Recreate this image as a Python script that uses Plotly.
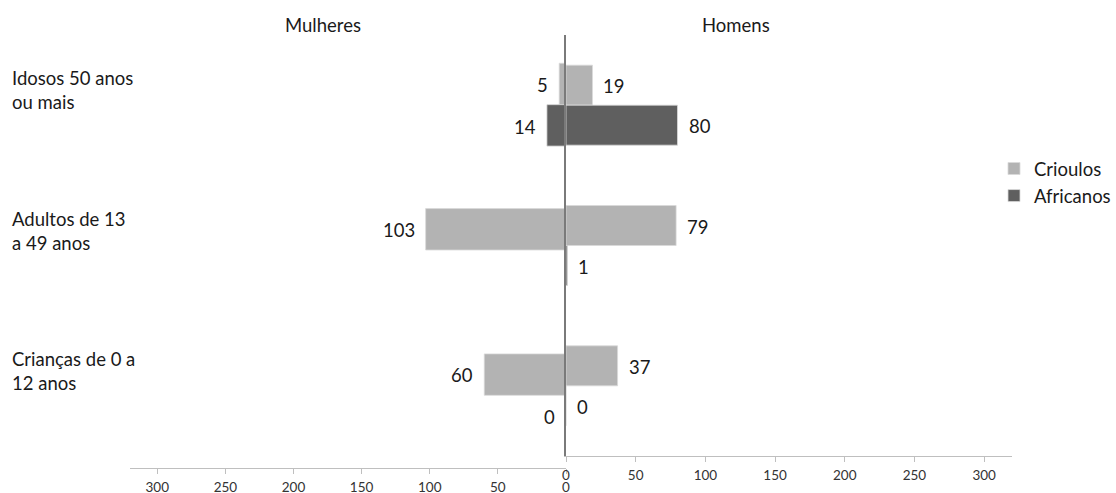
import plotly.graph_objects as go

# Age groups, top to bottom
faixas = ["Idosos 50 anos<br>ou mais", "Adultos de 13<br>a 49 anos", "Crianças de 0 a<br>12 anos"]
series = ["Crioulos", "Africanos"]

# Women (left panel) and men (right panel) by origin
mulheres_crioulos = [5, 103, 60]
mulheres_africanos = [14, None, 0]
homens_crioulos = [19, 79, 37]
homens_africanos = [80, 1, 0]

eixo_ticks = [0, 50, 100, 150, 200, 250, 300]

cores = {"Crioulos": "#b3b3b3", "Africanos": "#5f5f5f"}
FONTE = "Lato, 'Open Sans', sans-serif"
TXT = "#1a1a1a"
TAM = 18.5

W, H = 1116, 493


def fx(px):
    return px / W


def fy(py):
    return 1 - py / H


fig = go.Figure()

paineis = [
    ("x", "y", {"Crioulos": mulheres_crioulos, "Africanos": mulheres_africanos}),
    ("x2", "y2", {"Crioulos": homens_crioulos, "Africanos": homens_africanos}),
]

for xa, ya, dados in paineis:
    for nome in series:
        fig.add_trace(go.Bar(
            y=faixas, x=dados[nome], orientation="h",
            name=nome, legendgroup=nome,
            marker=dict(color=cores[nome], line=dict(width=0.8, color="#d9d9d9")),
            xaxis=xa, yaxis=ya,
            showlegend=(xa == "x2"),
            hoverinfo="skip",
        ))

# Value labels beside each bar
anots = []
for xa, ya, dados, lado, meia in [
    ("x", "y", {"Crioulos": mulheres_crioulos, "Africanos": mulheres_africanos}, -1, 21),
    ("x2", "y2", {"Crioulos": homens_crioulos, "Africanos": homens_africanos}, 1, 20),
]:
    for nome, desloc in [("Crioulos", meia), ("Africanos", -meia)]:
        for faixa, v in zip(faixas, dados[nome]):
            if v is None:
                continue
            anots.append(dict(
                x=v, y=faixa, xref=xa, yref=ya, text=str(v), showarrow=False,
                xanchor="right" if lado < 0 else "left",
                xshift=9 * lado, yshift=desloc - 1,
                font=dict(family=FONTE, size=TAM, color=TXT),
            ))

# Age-group labels at the far left
for faixa in faixas:
    anots.append(dict(
        x=fx(10), xref="paper", y=faixa, yref="y2", yshift=15,
        text=faixa, showarrow=False, xanchor="left", align="left",
        font=dict(family=FONTE, size=TAM, color=TXT),
    ))

# Panel titles
anots.append(dict(x=fx(323), y=fy(25), xref="paper", yref="paper", text="Mulheres",
                  xanchor="center", yanchor="middle",
                  showarrow=False, font=dict(family=FONTE, size=TAM, color=TXT)))
anots.append(dict(x=fx(736), y=fy(25), xref="paper", yref="paper", text="Homens",
                  xanchor="center", yanchor="middle",
                  showarrow=False, font=dict(family=FONTE, size=TAM, color=TXT)))

eixo_x = dict(
    tickvals=eixo_ticks, showgrid=False, zeroline=False,
    showline=True, linecolor="#bfbfbf", linewidth=1,
    ticks="outside", ticklen=5, tickcolor="#bfbfbf",
    tickfont=dict(family=FONTE, size=13.5, color="#333333"),
    ticklabelstandoff=2, automargin=False, fixedrange=True,
)

fig.update_layout(
    width=W, height=H,
    margin=dict(l=0, r=0, t=0, b=0),
    paper_bgcolor="white", plot_bgcolor="white",
    barmode="group", bargap=0.43, bargroupgap=0,
    xaxis=dict(eixo_x, domain=[fx(130), fx(566)], range=[320, 0], anchor="y"),
    yaxis=dict(domain=[fy(468), fy(32)], autorange="reversed", showticklabels=False,
               showgrid=False, zeroline=False, showline=False, ticks="",
               anchor="x", automargin=False),
    xaxis2=dict(eixo_x, domain=[fx(566), fx(1012)], range=[0, 320], anchor="y2"),
    yaxis2=dict(domain=[fy(456), fy(35)], autorange="reversed", showticklabels=False,
                showgrid=False, zeroline=False, showline=True, linecolor="#7a7a7a",
                linewidth=1.5, ticks="", anchor="x2", automargin=False),
    legend=dict(x=fx(994), y=fy(150), xanchor="left", yanchor="top",
                font=dict(family=FONTE, size=TAM, color=TXT),
                tracegroupgap=6, bgcolor="rgba(0,0,0,0)", traceorder="normal",
                itemwidth=30),
    annotations=anots,
    showlegend=True,
)

fig.write_html("out.html")
